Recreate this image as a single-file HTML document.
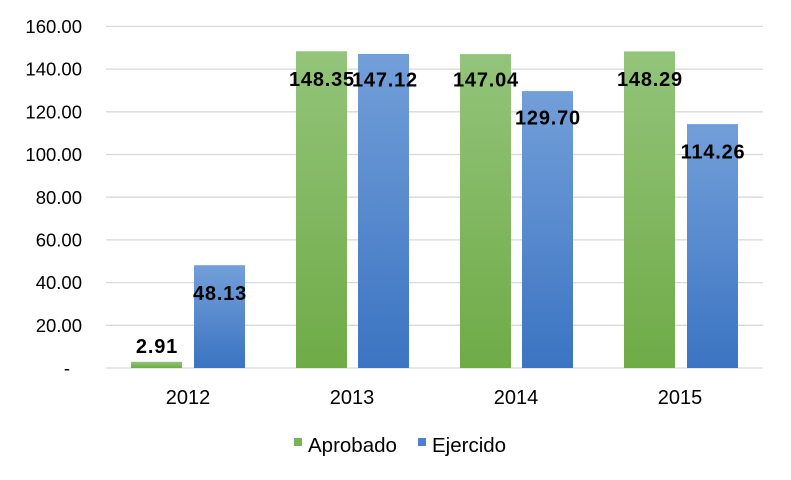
<!DOCTYPE html>
<html><head><meta charset="utf-8"><style>
html,body{margin:0;padding:0;background:#fff;}
svg{display:block;font-family:"Liberation Sans",Arial,sans-serif;}
</style></head><body>
<svg width="791" height="480" viewBox="0 0 791 480" xmlns="http://www.w3.org/2000/svg">
<defs>
<linearGradient id="g" x1="0" y1="0" x2="0" y2="1"><stop offset="0" stop-color="#93c47a"/><stop offset="1" stop-color="#6fab47"/></linearGradient>
<linearGradient id="b" x1="0" y1="0" x2="0" y2="1"><stop offset="0" stop-color="#739fd9"/><stop offset="1" stop-color="#3b74c2"/></linearGradient>
</defs>
<g stroke="#d9d9d9" stroke-width="1.3">
<line x1="106" x2="763" y1="26.4" y2="26.4"/>
<line x1="106" x2="763" y1="69.1" y2="69.1"/>
<line x1="106" x2="763" y1="111.8" y2="111.8"/>
<line x1="106" x2="763" y1="154.5" y2="154.5"/>
<line x1="106" x2="763" y1="197.2" y2="197.2"/>
<line x1="106" x2="763" y1="239.9" y2="239.9"/>
<line x1="106" x2="763" y1="282.6" y2="282.6"/>
<line x1="106" x2="763" y1="325.3" y2="325.3"/>
<line x1="106" x2="763" y1="368" y2="368"/>
</g>
<g font-size="18.5" fill="#000" text-anchor="end">
<text x="82" y="33">160.00</text>
<text x="82" y="75.7">140.00</text>
<text x="82" y="118.4">120.00</text>
<text x="82" y="161.1">100.00</text>
<text x="82" y="203.8">80.00</text>
<text x="82" y="246.5">60.00</text>
<text x="82" y="289.2">40.00</text>
<text x="82" y="331.9">20.00</text>
<text x="70" y="374.5">-</text>
</g>
<g>
<rect x="131" y="361.8" width="51" height="6.2" fill="url(#g)"/>
<rect x="194" y="265.2" width="51" height="102.8" fill="url(#b)"/>
<rect x="296" y="51.3" width="51" height="316.7" fill="url(#g)"/>
<rect x="358" y="53.9" width="51" height="314.1" fill="url(#b)"/>
<rect x="460" y="54.1" width="51" height="313.9" fill="url(#g)"/>
<rect x="522" y="91.1" width="51" height="276.9" fill="url(#b)"/>
<rect x="624" y="51.4" width="51" height="316.6" fill="url(#g)"/>
<rect x="687" y="124.1" width="51" height="243.9" fill="url(#b)"/>
</g>
<g font-size="20" font-weight="bold" fill="#000" text-anchor="middle" letter-spacing="0.8">
<text x="157" y="353">2.91</text>
<text x="220" y="300">48.13</text>
<text x="322" y="86">148.35</text>
<text x="385" y="86.5">147.12</text>
<text x="486" y="86.5">147.04</text>
<text x="548" y="124.5">129.70</text>
<text x="650" y="86">148.29</text>
<text x="713" y="158.5">114.26</text>
</g>
<g font-size="20" fill="#000" text-anchor="middle">
<text x="188" y="404">2012</text>
<text x="352" y="404">2013</text>
<text x="516" y="404">2014</text>
<text x="680" y="404">2015</text>
</g>
<rect x="294" y="438" width="8" height="8" fill="#77b255"/>
<text x="308" y="452" font-size="20.5">Aprobado</text>
<rect x="418" y="438" width="8" height="8" fill="#4a80cc"/>
<text x="432" y="452" font-size="20.5">Ejercido</text>
</svg>
</body></html>
